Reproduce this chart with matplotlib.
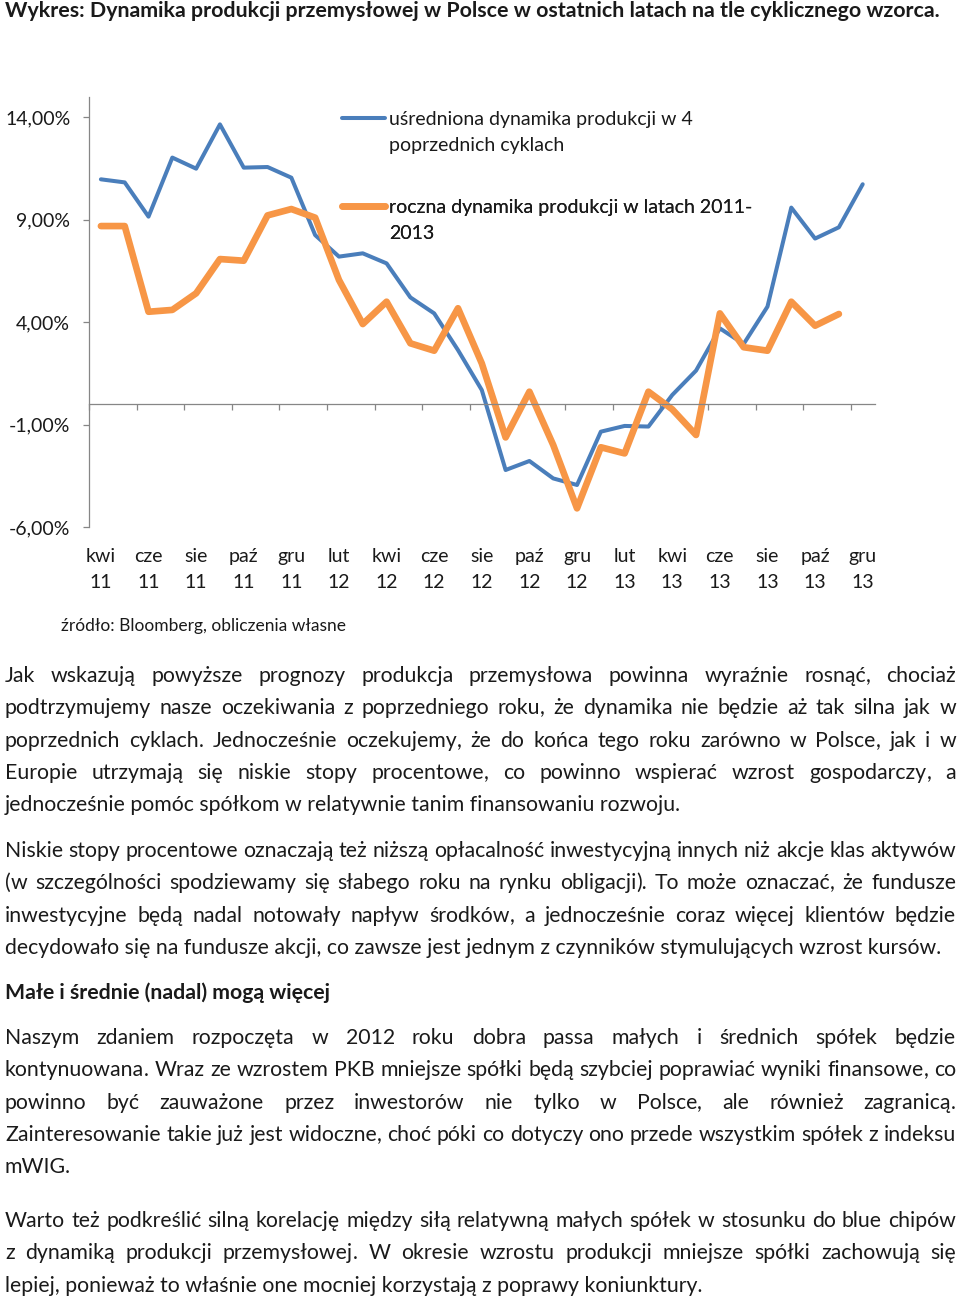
import numpy as np
import matplotlib
matplotlib.use('Agg')
import matplotlib.pyplot as plt
from matplotlib.lines import Line2D
from matplotlib.ticker import FuncFormatter

plt.rcParams['font.family'] = ['Lato', 'DejaVu Sans']

# === DANE ===
miesiace = ['kwi 11', 'maj 11', 'cze 11', 'lip 11', 'sie 11', 'wrz 11', 'paź 11', 'lis 11', 'gru 11',
            'sty 12', 'lut 12', 'mar 12', 'kwi 12', 'maj 12', 'cze 12', 'lip 12', 'sie 12', 'wrz 12',
            'paź 12', 'lis 12', 'gru 12', 'sty 13', 'lut 13', 'mar 13', 'kwi 13', 'maj 13', 'cze 13',
            'lip 13', 'sie 13', 'wrz 13', 'paź 13', 'lis 13', 'gru 13']

# uśredniona dynamika w 4 poprzednich cyklach (%)
usredniona = [10.96, 10.81, 9.14, 12.02, 11.48, 13.64, 11.53, 11.56, 11.04, 8.24, 7.19, 7.35,
              6.86, 5.20, 4.42, 2.63, 0.68, -3.22, -2.78, -3.63, -3.95, -1.35, -1.07, -1.10,
              0.44, 1.63, 3.69, 2.93, 4.75, 9.58, 8.07, 8.62, 10.72]

# roczna dynamika produkcji 2011-2013 (%), brak ostatniego miesiąca
roczna = [8.68, 8.68, 4.50, 4.59, 5.40, 7.07, 6.99, 9.20, 9.51, 9.09, 6.05, 3.90,
          4.99, 2.96, 2.60, 4.67, 1.98, -1.63, 0.60, -2.00, -5.09, -2.11, -2.41, 0.60,
          -0.26, -1.51, 4.42, 2.77, 2.60, 4.99, 3.82, 4.39, np.nan]

os_y = [-6, -1, 4, 9, 14]

leg_usredniona = ['uśredniona dynamika produkcji w 4', 'poprzednich cyklach']
leg_roczna = ['roczna dynamika produkcji w latach 2011-', '2013']

tytul = 'Wykres: Dynamika produkcji przemysłowej w Polsce w ostatnich latach na tle cyklicznego wzorca.'
zrodlo = 'źródło: Bloomberg, obliczenia własne'
naglowek = 'Małe i średnie (nadal) mogą więcej'

akapit1 = ['Jak wskazują powyższe prognozy produkcja przemysłowa powinna wyraźnie rosnąć, chociaż',
           'podtrzymujemy nasze oczekiwania z poprzedniego roku, że dynamika nie będzie aż tak silna jak w',
           'poprzednich cyklach. Jednocześnie oczekujemy, że do końca tego roku zarówno w Polsce, jak i w',
           'Europie utrzymają się niskie stopy procentowe, co powinno wspierać wzrost gospodarczy, a',
           'jednocześnie pomóc spółkom w relatywnie tanim finansowaniu rozwoju.']
akapit2 = ['Niskie stopy procentowe oznaczają też niższą opłacalność inwestycyjną innych niż akcje klas aktywów',
           '(w szczególności spodziewamy się słabego roku na rynku obligacji). To może oznaczać, że fundusze',
           'inwestycyjne będą nadal notowały napływ środków, a jednocześnie coraz więcej klientów będzie',
           'decydowało się na fundusze akcji, co zawsze jest jednym z czynników stymulujących wzrost kursów.']
akapit3 = ['Naszym zdaniem rozpoczęta w 2012 roku dobra passa małych i średnich spółek będzie',
           'kontynuowana. Wraz ze wzrostem PKB mniejsze spółki będą szybciej poprawiać wyniki finansowe, co',
           'powinno być zauważone przez inwestorów nie tylko w Polsce, ale również zagranicą.',
           'Zainteresowanie takie już jest widoczne, choć póki co dotyczy ono przede wszystkim spółek z indeksu',
           'mWIG.']
akapit4 = ['Warto też podkreślić silną korelację między siłą relatywną małych spółek w stosunku do blue chipów',
           'z dynamiką produkcji przemysłowej. W okresie wzrostu produkcji mniejsze spółki zachowują się',
           'lepiej, ponieważ to właśnie one mocniej korzystają z poprawy koniunktury.']

# === FIGURA ===
W, H = 960, 1299
fig = plt.figure(figsize=(W / 100, H / 100), dpi=100)
renderer = fig.canvas.get_renderer()


def fx(x):
    return x / W


def fy(y):
    return 1 - y / H


def szer(tekst, **kw):
    t = fig.text(0, 0, tekst, **kw)
    w = t.get_window_extent(renderer).width
    t.remove()
    return w


# rozmiary czcionek dopasowane do szerokości tekstów na oryginale
fs_tyt = 10 * 936 / szer(tytul, fontsize=10, weight='bold')
fs_tekst = 10 * 932 / szer(akapit2[-1], fontsize=10)
fs_wyk = 10 * 303 / szer(leg_usredniona[0], fontsize=10)
fs_zrodlo = 10 * 285 / szer(zrodlo, fontsize=10)

KOLOR_OSI = '#868686'
NIEBIESKI = '#4a7ebb'
POMARANCZ = '#f79646'
TEKST = '#1a1a1a'

# === WYKRES ===
ax = fig.add_axes([fx(89), fy(527), (874.6 - 89) / W, (527 - 96.5) / H])
x = np.arange(len(miesiace))
l1, = ax.plot(x, usredniona, color=NIEBIESKI, lw=2.9, solid_joinstyle='round', solid_capstyle='round')
l2, = ax.plot(x, roczna, color=POMARANCZ, lw=4.8, solid_joinstyle='round', solid_capstyle='round')

ax.set_xlim(-0.5, len(miesiace) - 0.5)
ax.set_ylim(-6, 15)
ax.set_yticks(os_y)
ax.yaxis.set_major_formatter(FuncFormatter(lambda v, _: f'{v:.2f}%'.replace('.', ',')))
ax.spines[['top', 'right']].set_visible(False)
ax.spines['bottom'].set_position(('data', 0))
ax.spines[['left', 'bottom']].set_color(KOLOR_OSI)
ax.spines[['left', 'bottom']].set_linewidth(0.9)
ax.set_xticks(np.arange(-0.5, len(miesiace) - 1, 2))
ax.tick_params(axis='x', labelbottom=False, length=4.5, width=0.9, color=KOLOR_OSI)
ax.tick_params(axis='y', length=4.5, width=0.9, color=KOLOR_OSI, labelsize=fs_wyk, pad=9,
               labelcolor=TEKST)

# etykiety miesięcy pod wykresem
sec = ax.secondary_xaxis('bottom')
sec.set_xticks(x[::2], [m.replace(' ', '\n') for m in miesiace[::2]], linespacing=1.65)
sec.tick_params(length=0, pad=15, labelsize=fs_wyk, labelcolor=TEKST)
sec.spines['bottom'].set_visible(False)

# legenda (dwie osobne, tekst w dwóch wierszach)
fs_px = fs_wyk * 100 / 72
for linia, wiersze, y_gora in [(l1, leg_usredniona, 111), (l2, leg_roczna, 199)]:
    leg = ax.legend([linia, Line2D([], [], color='none')], wiersze, loc='upper left',
                    bbox_to_anchor=(fx(342), fy(y_gora)), bbox_transform=fig.transFigure,
                    frameon=False, borderpad=0, borderaxespad=0, fontsize=fs_wyk,
                    handlelength=43 / fs_px, handletextpad=4 / fs_px, labelspacing=0.45,
                    labelcolor=TEKST)
    ax.add_artist(leg)

# === TEKSTY ===
LEWY, PRAWY = 5, 956
INTERP = ',.)('


def slowo(s, xp, yb, **kw):
    # interpunkcja osobno, żeby słowa z przecinkiem nie skakały o piksel
    lead = s[:len(s) - len(s.lstrip(INTERP))]
    core = s.strip(INTERP)
    tail = s[len(lead) + len(core):]
    for kawalek in (lead, core, tail):
        if kawalek:
            fig.text(fx(xp), yb, kawalek, va='baseline', ha='left', **kw)
            xp += szer(kawalek, **kw)


def wiersz(tekst, y, justuj, **kw):
    # y = środek wiersza na oryginale, tekst stawiany na linii bazowej
    yb = fy(y + 5)
    if not justuj:
        fig.text(fx(LEWY), yb, tekst, va='baseline', ha='left', **kw)
        return
    slowa = tekst.split(' ')
    szerokosci = [szer(s, **kw) for s in slowa]
    odstep = (PRAWY - LEWY - sum(szerokosci)) / (len(slowa) - 1)
    xp = LEWY
    for s, w in zip(slowa, szerokosci):
        slowo(s, xp, yb, **kw)
        xp += w + odstep


def akapit(wiersze, y0):
    for i, tekst in enumerate(wiersze):
        wiersz(tekst, y0 + i * 32.3, i < len(wiersze) - 1, fontsize=fs_tekst, color=TEKST)


fig.text(fx(5), fy(17), tytul, va='baseline', ha='left', fontsize=fs_tyt, weight='bold', color=TEKST)
fig.text(fx(61), fy(631), zrodlo, va='baseline', ha='left', fontsize=fs_zrodlo, color=TEKST)

akapit(akapit1, 677)
akapit(akapit2, 852)
wiersz(naglowek, 994, False, fontsize=fs_tekst, weight='bold', color=TEKST)
akapit(akapit3, 1039)
akapit(akapit4, 1222)

fig.savefig('out.png', dpi=100, facecolor='white')
